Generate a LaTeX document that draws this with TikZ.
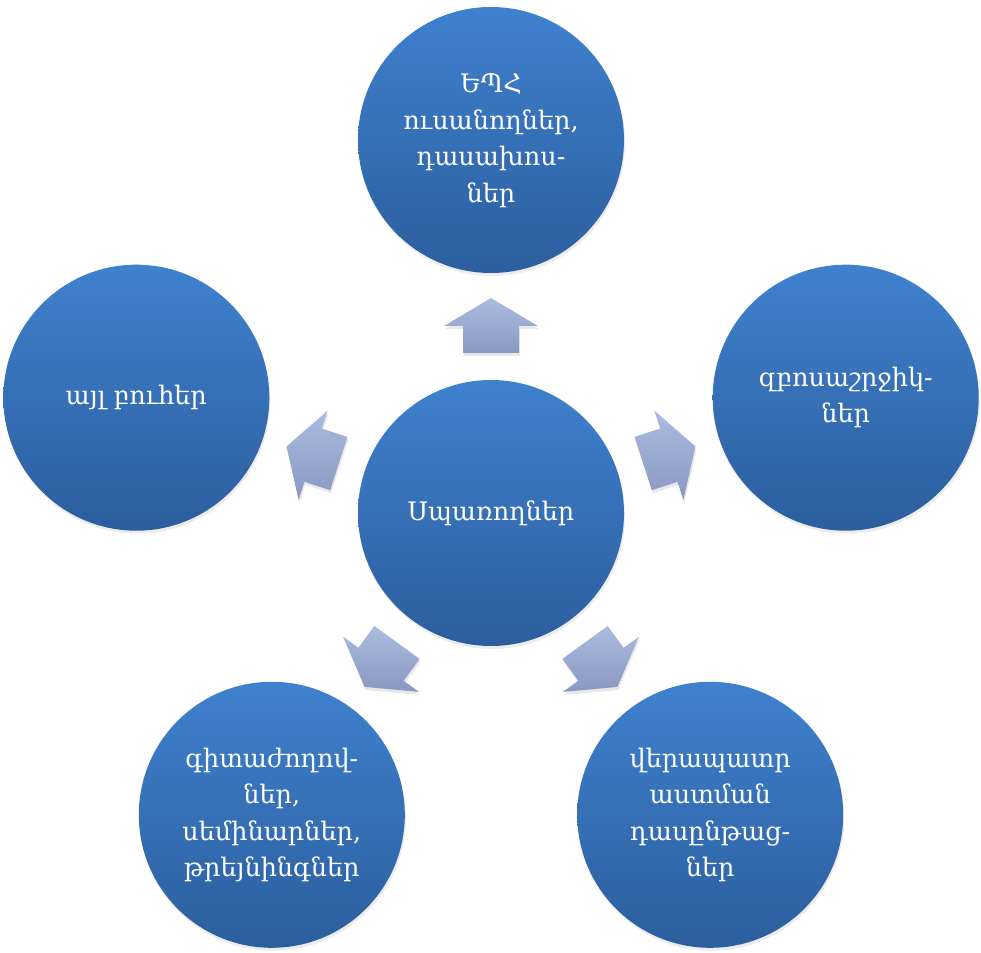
\documentclass[tikz,border=0pt]{standalone}
\usepackage{fontspec}
\setmainfont{DejaVu Serif}
\usetikzlibrary{shadows,calc}
\definecolor{circtop}{RGB}{63,129,206}
\definecolor{circbot}{RGB}{44,94,158}
\definecolor{arrtop}{RGB}{172,188,224}
\definecolor{arrbot}{RGB}{136,152,192}
\newcommand\radarrow[1]{%
  \path[arrowblock]
    ($(c.center)+(#1:160)+(#1+90:28)$) --
    ($(c.center)+(#1:187)+(#1+90:28)$) --
    ($(c.center)+(#1:187)+(#1+90:47)$) --
    ($(c.center)+(#1:215)$) --
    ($(c.center)+(#1:187)+(#1-90:47)$) --
    ($(c.center)+(#1:187)+(#1-90:28)$) --
    ($(c.center)+(#1:160)+(#1-90:28)$) -- cycle;}
\begin{document}
\begin{tikzpicture}[x=1pt,y=1pt,
  bubble/.style={circle,minimum size=266pt,inner sep=0pt,
    top color=circtop,bottom color=circbot,text=white,align=center,
    font=\fontsize{25.5}{36.5}\selectfont,
    drop shadow={opacity=0.15,shadow xshift=1pt,shadow yshift=-3pt}},
  arrowblock/.style={top color=arrtop,bottom color=arrbot,
    drop shadow={opacity=0.18,shadow xshift=1pt,shadow yshift=-3pt}}]
\useasboundingbox (0,0) rectangle (981,952);
\node[bubble] (c) at (491,439) {Սպառողներ};
\node[bubble] (t) at (491,812) {\raisebox{-4pt}{\begin{tabular}{@{}c@{}}ԵՊՀ\\ուսանողներ,\\դասախոս-\\ներ\end{tabular}}};
\node[bubble] (r) at (845.7,554.3) {զբոսաշրջիկ-\\ներ};
\node[bubble] (br) at (710.2,137.2) {վերապատր\\աստման\\դասընթաց-\\ներ};
\node[bubble] (bl) at (271.8,137.2) {գիտաժողով-\\ներ,\\սեմինարներ,\\թրեյնինգներ};
\node[bubble] (l) at (136.3,554.3) {այլ բուհեր};
\radarrow{90}
\radarrow{18}
\radarrow{-54}
\radarrow{-126}
\radarrow{162}
\end{tikzpicture}
\end{document}
